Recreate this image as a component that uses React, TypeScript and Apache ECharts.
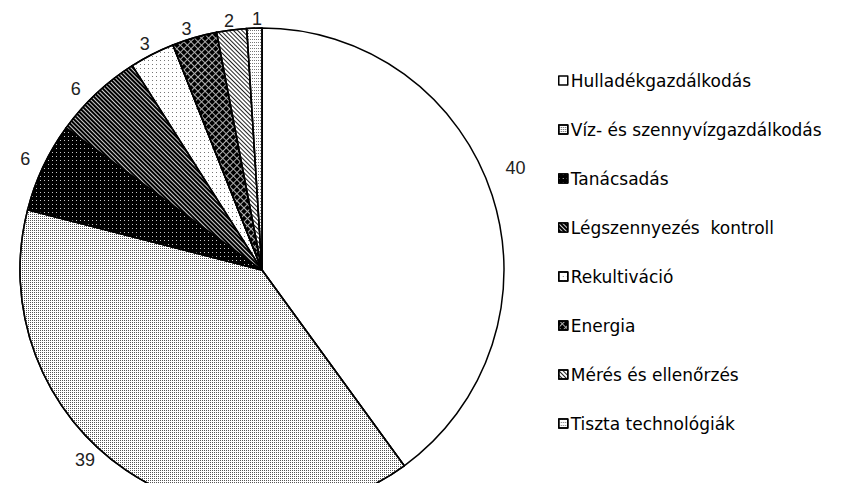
import React, { useEffect, useRef } from "react";
import * as echarts from "echarts";

const categories = [
  "Hulladékgazdálkodás",
  "Víz- és szennyvízgazdálkodás",
  "Tanácsadás",
  "Légszennyezés  kontroll",
  "Rekultiváció",
  "Energia",
  "Mérés és ellenőrzés",
  "Tiszta technológiák",
];
const values = [40, 39, 6, 6, 3, 3, 2, 1];

const fillColors = ["#ffffff", "#ffffff", "#000000", "#000000", "#ffffff", "#b0b0b0", "#ffffff", "#ffffff"];
const decals: any[] = [
  null,
  { symbol: "rect", symbolSize: 1, color: "#555555", dashArrayX: [1, 1], dashArrayY: [1, 1], rotation: 0 },
  { symbol: "rect", symbolSize: 1, color: "#c8c8c8", dashArrayX: [1, 3], dashArrayY: [1, 3], rotation: 0 },
  { symbol: "rect", symbolSize: 1, color: "#d0d0d0", dashArrayX: [1, 0], dashArrayY: [1, 2], rotation: Math.PI / 4 },
  { symbol: "rect", symbolSize: 1, color: "#777777", dashArrayX: [1, 3], dashArrayY: [1, 3], rotation: 0 },
  { symbol: "rect", symbolSize: 1, color: "#000000", dashArrayX: [4, 1], dashArrayY: [4, 1], rotation: Math.PI / 4 },
  { symbol: "rect", symbolSize: 1, color: "#222222", dashArrayX: [1, 0], dashArrayY: [1, 2], rotation: Math.PI / 4 },
  { symbol: "rect", symbolSize: 1, color: "#777777", dashArrayX: [1, 1], dashArrayY: [1, 2], rotation: 0 },
];
// small nudges of the value labels (as placed in the original)
const labelNudges: number[][] = [[5, -23], [-28, -22], [0, -2], [-6, 6], [4, 2], [1, 5], [4, 5], [8, 5]];

export default function App() {
  const ref = useRef<HTMLDivElement>(null);
  useEffect(() => {
    if (!ref.current) return;
    const chart = echarts.init(ref.current, null, { renderer: "svg" });
    const data = categories.map((name, i) => {
      const itemStyle: any = { color: fillColors[i], borderColor: "#000", borderWidth: 1.5 };
      if (decals[i]) itemStyle.decal = decals[i];
      return { name, value: values[i], itemStyle };
    });
    chart.setOption({
      animation: false,
      backgroundColor: "#ffffff",
      legend: {
        orient: "vertical",
        left: 553,
        top: 67,
        itemWidth: 9,
        itemHeight: 9,
        itemGap: 32,
        icon: "rect",
        itemStyle: { borderColor: "#000", borderWidth: 1.5 },
        textStyle: { fontFamily: "DejaVu Sans", fontSize: 17, color: "#000", padding: [0, 0, 0, -2] },
        selectedMode: false,
        data: categories,
      },
      series: [
        {
          type: "pie",
          center: [262, 270],
          radius: 242,
          startAngle: 90,
          clockwise: true,
          avoidLabelOverlap: false,
          label: {
            show: true,
            position: "outside",
            formatter: "{c}",
            fontFamily: "Liberation Sans, Arial",
            fontSize: 18,
            color: "#222",
          },
          labelLine: { show: false, length: 14, length2: 0 },
          labelLayout: (p: any) => ({
            align: "center",
            verticalAlign: "middle",
            dx: labelNudges[p.dataIndex][0],
            dy: labelNudges[p.dataIndex][1],
          }),
          emphasis: { disabled: true },
          data,
        },
      ],
    });
    return () => chart.dispose();
  }, []);
  return <div ref={ref} style={{ width: 843, height: 491, margin: -8 }} />;
}
